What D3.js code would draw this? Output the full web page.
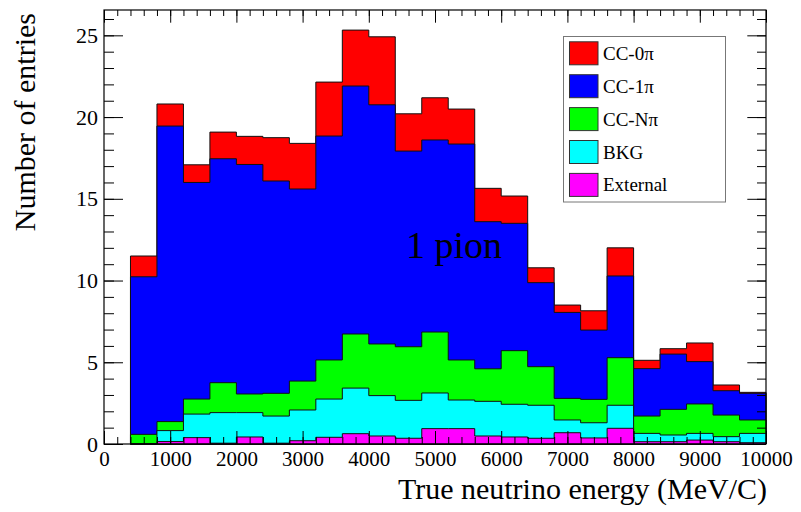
<!DOCTYPE html>
<html>
<head>
<meta charset="utf-8">
<script src="https://cdn.jsdelivr.net/npm/d3@7"></script>
<style>
  body { margin: 0; background: #fff; }
  svg { display: block; font-family: "Liberation Serif", "Times New Roman", serif; }
</style>
</head>
<body>
<div id="chart"></div>
<script>
// bin lower edges (MeV), each bin is 400 wide
var binLow = [400, 800, 1200, 1600, 2000, 2400, 2800, 3200, 3600, 4000, 4400, 4800,
              5200, 5600, 6000, 6400, 6800, 7200, 7600, 8000, 8400, 8800, 9200, 9600];
var binWidth = 400;

// entries per bin for every sample (stacked bottom -> top)
var external = [0, 0.15, 0.39, 0.05, 0.43, 0.05, 0.2, 0.41, 0.63, 0.49, 0.35, 0.94,
                0.94, 0.49, 0.43, 0.35, 0.69, 0.37, 0.96, 0.14, 0.14, 0.24, 0.14, 0.08];
var bkg = [0, 0.67, 1.44, 1.87, 1.49, 1.66, 1.88, 2.34, 2.79, 2.47, 2.32, 2.18,
           1.75, 2.12, 2.0, 2.02, 0.78, 0.93, 1.41, 0.51, 0.41, 0.41, 0.31, 0.57];
var ccNpi = [0.59, 0.55, 0.92, 1.83, 1.14, 1.39, 1.77, 2.39, 3.31, 3.16, 3.28, 3.73,
             2.45, 1.99, 3.28, 2.36, 1.32, 1.43, 2.91, 1.06, 1.57, 1.8, 1.32, 0.82];
var cc1pi = [9.64, 18.08, 13.25, 13.7, 14.04, 12.99, 11.75, 13.7, 15.17, 14.63, 11.97, 11.75,
             13.21, 9.0, 7.79, 5.14, 5.26, 4.24, 5.0, 2.9, 3.38, 2.59, 1.49, 1.63];
var cc0pi = [1.27, 1.35, 1.08, 1.63, 1.72, 2.65, 2.79, 3.3, 3.42, 4.16, 2.28, 2.58,
             2.14, 2.04, 1.67, 0.91, 0.45, 1.18, 1.72, 0.51, 0.33, 1.14, 0.35, 0.06];

var xTicks = [0, 1000, 2000, 3000, 4000, 5000, 6000, 7000, 8000, 9000, 10000];
var yTicks = [0, 5, 10, 15, 20, 25];
var legendLabels = ["CC-0π", "CC-1π", "CC-Nπ", "BKG", "External"];
var legendColors = ["#ff0000", "#0000ff", "#00ff00", "#00ffff", "#ff00ff"];

var W = 801, H = 512;
var margin = {top: 10, right: 35, bottom: 68, left: 104};

var svg = d3.select("#chart")
    .append("svg")
    .attr("width", W)
    .attr("height", H);

var x = d3.scaleLinear()
    .domain([0, 10000])
    .range([margin.left, W - margin.right]);

var y = d3.scaleLinear()
    .domain([0, 26.55])
    .range([H - margin.bottom, margin.top]);

// table for the stack
var keys = ["External", "BKG", "CCNpi", "CC1pi", "CC0pi"];
var colors = {External: "#ff00ff", BKG: "#00ffff", CCNpi: "#00ff00", CC1pi: "#0000ff", CC0pi: "#ff0000"};
var rows = binLow.map(function(b, i) {
    return {lo: b, hi: b + binWidth, External: external[i], BKG: bkg[i],
            CCNpi: ccNpi[i], CC1pi: cc1pi[i], CC0pi: cc0pi[i]};
});
var series = d3.stack().keys(keys)(rows);

var area = d3.area()
    .x(function(p) { return x(p.x); })
    .y0(y(0))
    .y1(function(p) { return y(p.v); });

// ROOT-like stacking: draw the total first, then each partial sum over it
var layers = series.slice().reverse();
svg.append("g")
    .selectAll("path")
    .data(layers)
    .enter()
    .append("path")
    .attr("d", function(s) {
        var pts = [];
        s.forEach(function(d) {
            pts.push({x: d.data.lo, v: d[1]});
            pts.push({x: d.data.hi, v: d[1]});
        });
        return area(pts);
    })
    .attr("fill", function(s) { return colors[s.key]; })
    .attr("stroke", "#111")
    .attr("stroke-width", 1);

// frame
svg.append("rect")
    .attr("x", x(0))
    .attr("y", y.range()[1])
    .attr("width", x(10000) - x(0))
    .attr("height", y(0) - y.range()[1])
    .attr("fill", "none")
    .attr("stroke", "#000")
    .attr("stroke-width", 1.2);

var minorX = d3.range(0, 10001, 200);
var minorY = d3.range(0, 27, 1);

function styleAxis(g, fontSize) {
    g.select(".domain").remove();
    g.selectAll("line").attr("stroke", "#000").attr("stroke-width", 1);
    g.attr("font-family", null).attr("font-size", fontSize);
    g.selectAll("text").attr("fill", "#000");
}

// bottom axis (ticks inside)
svg.append("g")
    .attr("transform", "translate(0," + y(0) + ")")
    .call(d3.axisBottom(x).tickValues(minorX).tickSize(-7).tickSizeOuter(0).tickFormat(""))
    .call(styleAxis, 21);
svg.append("g")
    .attr("transform", "translate(0," + y(0) + ")")
    .call(d3.axisBottom(x).tickValues(xTicks).tickSize(-13).tickSizeOuter(0).tickPadding(7).tickFormat(d3.format("d")))
    .call(styleAxis, 21);

// top axis
svg.append("g")
    .attr("transform", "translate(0," + margin.top + ")")
    .call(d3.axisTop(x).tickValues(minorX).tickSize(-6).tickSizeOuter(0).tickFormat(""))
    .call(styleAxis, 21);
svg.append("g")
    .attr("transform", "translate(0," + margin.top + ")")
    .call(d3.axisTop(x).tickValues(xTicks).tickSize(-12.7).tickSizeOuter(0).tickFormat(""))
    .call(styleAxis, 21);

// left axis
svg.append("g")
    .attr("transform", "translate(" + margin.left + ",0)")
    .call(d3.axisLeft(y).tickValues(minorY).tickSize(-10).tickSizeOuter(0).tickFormat(""))
    .call(styleAxis, 22);
svg.append("g")
    .attr("transform", "translate(" + margin.left + ",0)")
    .call(d3.axisLeft(y).tickValues(yTicks).tickSize(-19).tickSizeOuter(0).tickPadding(6).tickFormat(d3.format("d")))
    .call(styleAxis, 22);

// right axis
svg.append("g")
    .attr("transform", "translate(" + (W - margin.right) + ",0)")
    .call(d3.axisRight(y).tickValues(minorY).tickSize(-9).tickSizeOuter(0).tickFormat(""))
    .call(styleAxis, 22);
svg.append("g")
    .attr("transform", "translate(" + (W - margin.right) + ",0)")
    .call(d3.axisRight(y).tickValues(yTicks).tickSize(-18.7).tickSizeOuter(0).tickFormat(""))
    .call(styleAxis, 22);

// axis titles
svg.append("text")
    .attr("x", 767)
    .attr("y", 498.5)
    .attr("text-anchor", "end")
    .attr("font-size", 30)
    .text("True neutrino energy (MeV/C)");

svg.append("text")
    .attr("transform", "translate(35,13) rotate(-90)")
    .attr("text-anchor", "end")
    .attr("font-size", 30)
    .text("Number of entries");

// annotation
svg.append("text")
    .attr("x", 406)
    .attr("y", 258)
    .attr("font-size", 38)
    .text("1 pion");

// legend
var legend = svg.append("g");
legend.append("rect")
    .attr("x", 563.5)
    .attr("y", 36.5)
    .attr("width", 162)
    .attr("height", 165.5)
    .attr("fill", "#fff")
    .attr("stroke", "#777")
    .attr("stroke-width", 1);

var item = legend.selectAll("g.item")
    .data(legendLabels)
    .enter()
    .append("g")
    .attr("class", "item")
    .attr("transform", function(d, i) { return "translate(0," + (53.3 + i * 32.9) + ")"; });

item.append("rect")
    .attr("x", 569.5)
    .attr("y", -11.5)
    .attr("width", 28.5)
    .attr("height", 23)
    .attr("fill", function(d, i) { return legendColors[i]; })
    .attr("stroke", "#333")
    .attr("stroke-width", 1);

item.append("text")
    .attr("x", 603)
    .attr("y", 6.5)
    .attr("font-size", 19)
    .text(function(d) { return d; });
</script>
</body>
</html>
